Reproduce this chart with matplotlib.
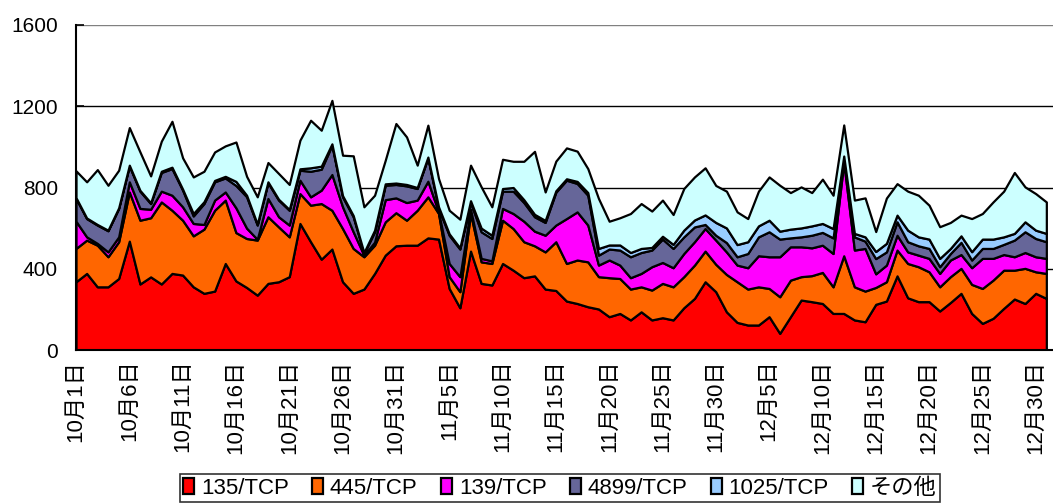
import numpy as np
import pandas as pd
import matplotlib
matplotlib.use('Agg')
import matplotlib.pyplot as plt

plt.rcParams['font.family'] = ['Liberation Sans', 'Noto Sans CJK JP']

# 日別アクセス件数 (10/1 - 12/31)
dates = pd.date_range('2004-10-01', '2004-12-31')
tick_labels = [f'{d.month}月{d.day}日' for d in dates]

p135 = [336, 377, 311, 311, 352, 536, 325, 360, 325, 377,
        369, 311, 279, 290, 426, 340, 308, 270, 328, 336,
        361, 623, 533, 447, 497, 336, 279, 300, 377, 467,
        513, 516, 516, 552, 546, 303, 208, 487, 328, 320,
        426, 393, 356, 365, 300, 293, 241, 229, 213, 202,
        164, 180, 148, 188, 148, 159, 148, 208, 254, 336,
        287, 188, 136, 123, 123, 164, 82, 164, 246, 238,
        229, 180, 180, 148, 139, 225, 241, 365, 257, 238,
        238, 192, 234, 279, 180, 131, 156, 205, 251, 229,
        279, 254]
p445 = [164, 164, 205, 148, 181, 242, 314, 291, 404, 311,
        270, 251, 316, 398, 312, 238, 241, 271, 328, 270,
        196, 147, 180, 274, 191, 262, 221, 159, 139, 164,
        163, 123, 172, 202, 126, 58, 79, 185, 106, 106,
        213, 205, 177, 148, 183, 240, 185, 214, 221, 159,
        192, 172, 152, 123, 147, 169, 163, 153, 164, 151,
        135, 184, 200, 177, 188, 139, 180, 180, 115, 128,
        153, 131, 284, 163, 151, 83, 95, 127, 169, 172,
        147, 119, 127, 123, 143, 172, 188, 188, 142, 173,
        106, 123]
p139 = [134, 16, 9, 24, 24, 50, 58, 42, 53, 74,
        66, 61, 23, 50, 40, 122, 51, 4, 90, 50,
        58, 66, 41, 66, 176, 107, 82, 8, 15, 109,
        73, 87, 50, 77, 8, 65, 74, 21, 17, 13,
        58, 74, 101, 72, 82, 82, 221, 237, 181, 57,
        87, 66, 56, 66, 115, 103, 94, 114, 115, 111,
        119, 111, 82, 105, 153, 156, 197, 164, 147, 137,
        134, 164, 461, 181, 210, 67, 82, 73, 57, 57,
        66, 66, 82, 68, 82, 148, 107, 77, 66, 78,
        74, 74]
p4899 = [112, 90, 90, 104, 140, 78, 85, 28, 92, 131,
         82, 37, 103, 90, 69, 110, 155, 70, 78, 82,
         73, 49, 126, 103, 144, 49, 74, 8, 51, 71,
         66, 82, 57, 115, 17, 139, 136, 33, 131, 110,
         85, 110, 92, 71, 63, 162, 189, 140, 147, 49,
         54, 74, 103, 103, 82, 115, 95, 82, 73, 20,
         24, 46, 41, 70, 93, 123, 87, 44, 49, 62,
         63, 77, 20, 65, 36, 75, 65, 66, 50, 46,
         49, 33, 32, 60, 38, 49, 49, 50, 82, 102,
         90, 82]
p1025 = [4, 3, 3, 3, 3, 4, 4, 4, 6, 7,
         5, 12, 9, 7, 8, 20, 7, 5, 4, 4,
         4, 7, 17, 15, 7, 6, 6, 5, 8, 7,
         7, 7, 5, 4, 8, 7, 6, 9, 18, 16,
         13, 18, 14, 12, 10, 7, 7, 10, 13, 33,
         20, 25, 21, 20, 13, 14, 20, 33, 34, 47,
         63, 72, 60, 58, 54, 57, 39, 43, 44, 46,
         44, 46, 10, 17, 21, 35, 42, 33, 57, 44,
         46, 41, 25, 32, 41, 46, 46, 37, 33, 49,
         41, 41]
other = [132, 178, 270, 221, 185, 185, 189, 132, 148, 226,
         154, 180, 150, 140, 150, 194, 93, 134, 95, 127,
         123, 141, 234, 177, 214, 199, 294, 225, 172, 116,
         293, 234, 110, 157, 139, 116, 141, 175, 203, 140,
         144, 129, 189, 310, 140, 146, 152, 149, 118, 246,
         117, 134, 192, 221, 179, 178, 147, 205, 212, 232,
         182, 181, 161, 114, 171, 213, 226, 180, 202, 164,
         218, 164, 153, 164, 192, 98, 223, 155, 192, 205,
         167, 156, 128, 102, 163, 126, 183, 225, 300, 172,
         180, 155]

names = ['135/TCP', '445/TCP', '139/TCP', '4899/TCP', '1025/TCP', 'その他']
colors = ['#FF0000', '#FF6600', '#FF00FF', '#666699', '#99CCFF', '#CCFFFF']

x = np.arange(len(dates))

fig = plt.figure(figsize=(10.53, 5.03), dpi=100)
ax = fig.add_axes([76 / 1053, 153 / 503, 981 / 1053, 325 / 503])

polys = ax.stackplot(x, p135, p445, p139, p4899, p1025, other,
                     colors=colors, labels=names,
                     edgecolor='black', linewidth=1.6, zorder=2)

ax.set_xlim(0, len(dates))
ax.set_ylim(0, 1600)
ax.set_yticks([0, 400, 800, 1200, 1600])
ax.set_xticks(x[::5])
ax.set_xticklabels(tick_labels[::5], rotation=90, fontsize=16)

ax.set_axisbelow(True)
ax.yaxis.grid(True, color='black', linewidth=1)
ax.get_ygridlines()[-1].set_color('#808080')

ax.tick_params(axis='y', direction='in', length=6, width=1.2, pad=13, labelsize=15)
ax.tick_params(axis='x', direction='in', length=7, width=1.2, pad=7)

for side in ['top', 'right']:
    ax.spines[side].set_visible(False)
ax.spines['left'].set_linewidth(1.5)
ax.spines['bottom'].set_linewidth(1.5)

leg = fig.legend(handles=polys, labels=names, loc='lower center',
                 bbox_to_anchor=(560 / 1053, 1 / 503), ncol=6, fontsize=16,
                 frameon=True, fancybox=False, edgecolor='black',
                 handlelength=0.5, handleheight=0.75, handletextpad=0.3,
                 columnspacing=1.05, borderpad=0.15, borderaxespad=0)
leg.get_frame().set_linewidth(1.2)

fig.savefig('out.png', dpi=100)
